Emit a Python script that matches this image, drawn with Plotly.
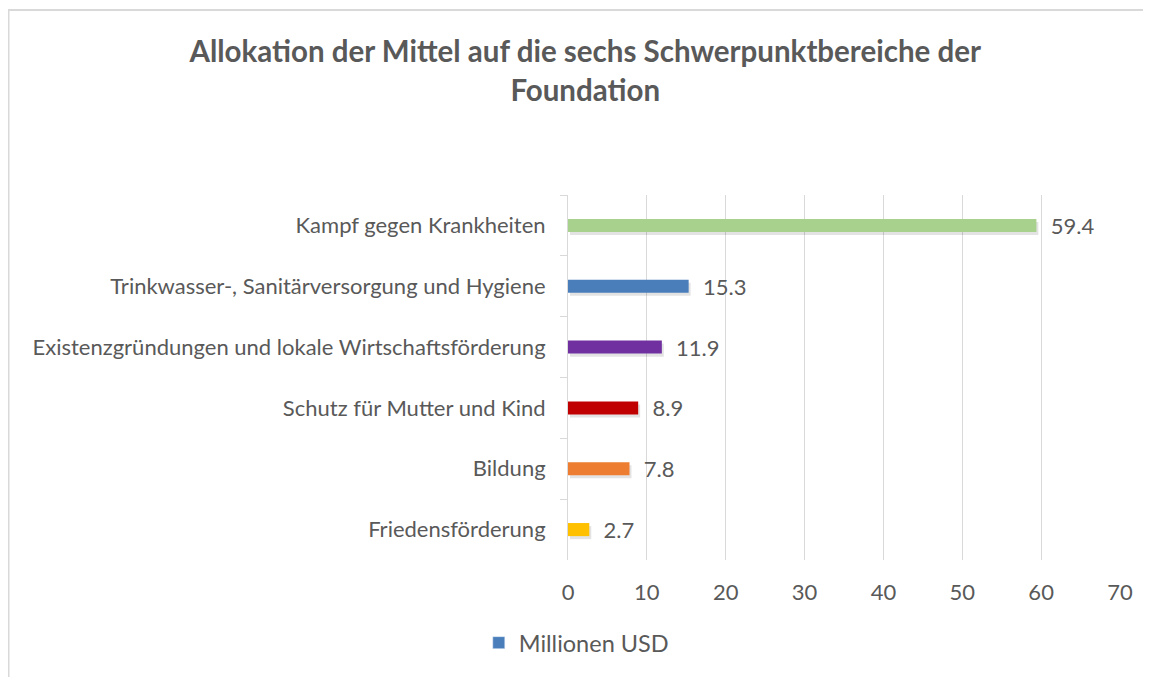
import plotly.graph_objects as go

categories = [
    "Kampf gegen Krankheiten",
    "Trinkwasser-, Sanitärversorgung und Hygiene",
    "Existenzgründungen und lokale Wirtschaftsförderung",
    "Schutz für Mutter und Kind",
    "Bildung",
    "Friedensförderung",
]
values = [59.4, 15.3, 11.9, 8.9, 7.8, 2.7]
bar_colors = ["#a9d18e", "#4a7ebb", "#7030a0", "#c00000", "#ed7d31", "#ffc000"]
series_name = "Millionen USD"
x_ticks = [0, 10, 20, 30, 40, 50, 60, 70]

FONT = "Lato"
TXT = "#595959"
GRID = "#d9d9d9"
BW = 0.215
FS = 22

fig = go.Figure()

# soft shadow
fig.add_trace(go.Bar(
    y=categories, x=values, orientation="h", base=0.25,
    width=BW, offset=-BW / 2 + 0.05,
    marker=dict(color="rgba(0,0,0,0.11)", line=dict(width=0)),
    showlegend=False, hoverinfo="skip",
))
fig.add_trace(go.Bar(
    y=categories, x=values, orientation="h",
    width=BW, offset=-BW / 2,
    marker=dict(color=bar_colors, line=dict(width=0)),
    text=values, texttemplate="  %{x:.1f}", textposition="outside",
    constraintext="none", cliponaxis=False,
    textfont=dict(family=FONT, size=FS, color=TXT),
    showlegend=False, name=series_name,
))
# legend entry
fig.add_trace(go.Bar(
    y=[None], x=[None], orientation="h", name=series_name,
    marker=dict(color="#4a7ebb"), showlegend=True,
))

fig.update_layout(
    width=1143, height=669,
    paper_bgcolor="white", plot_bgcolor="white",
    barmode="overlay",
    margin=dict(l=560, r=31, t=187, b=117),
    title=dict(
        text="<b>Allokation der Mittel auf die sechs Schwerpunktbereiche der<br>Foundation</b>",
        x=0.505, xanchor="center", y=0.919, yanchor="top", yref="container",
        font=dict(family=FONT, size=29.5, color=TXT),
    ),
    font=dict(family=FONT, size=FS, color=TXT),
    legend=dict(
        orientation="h", x=0.015, xanchor="center", y=-0.227, yanchor="middle",
        font=dict(family=FONT, size=23.5, color=TXT),
    ),
    xaxis=dict(
        range=[0, 70], tickvals=x_ticks, showgrid=True, gridcolor=GRID, gridwidth=1,
        zeroline=False, showline=False, ticks="", ticklabelstandoff=17,
        tickfont=dict(family=FONT, size=FS, color=TXT),
    ),
    yaxis=dict(
        autorange="reversed", type="category", showline=True, linecolor=GRID, linewidth=1,
        ticks="outside", tickson="boundaries", ticklen=7, tickcolor=GRID,
        showgrid=False, tickfont=dict(family=FONT, size=FS, color=TXT),
        ticklabelstandoff=17,
    ),
    shapes=[dict(
        type="rect", xref="paper", yref="paper",
        x0=-1.0136, x1=1.2, y0=-0.5, y1=1.5068,
        line=dict(color=GRID, width=2), fillcolor="rgba(0,0,0,0)", layer="below",
    )],
    showlegend=True,
)

fig.write_html("out.html")
